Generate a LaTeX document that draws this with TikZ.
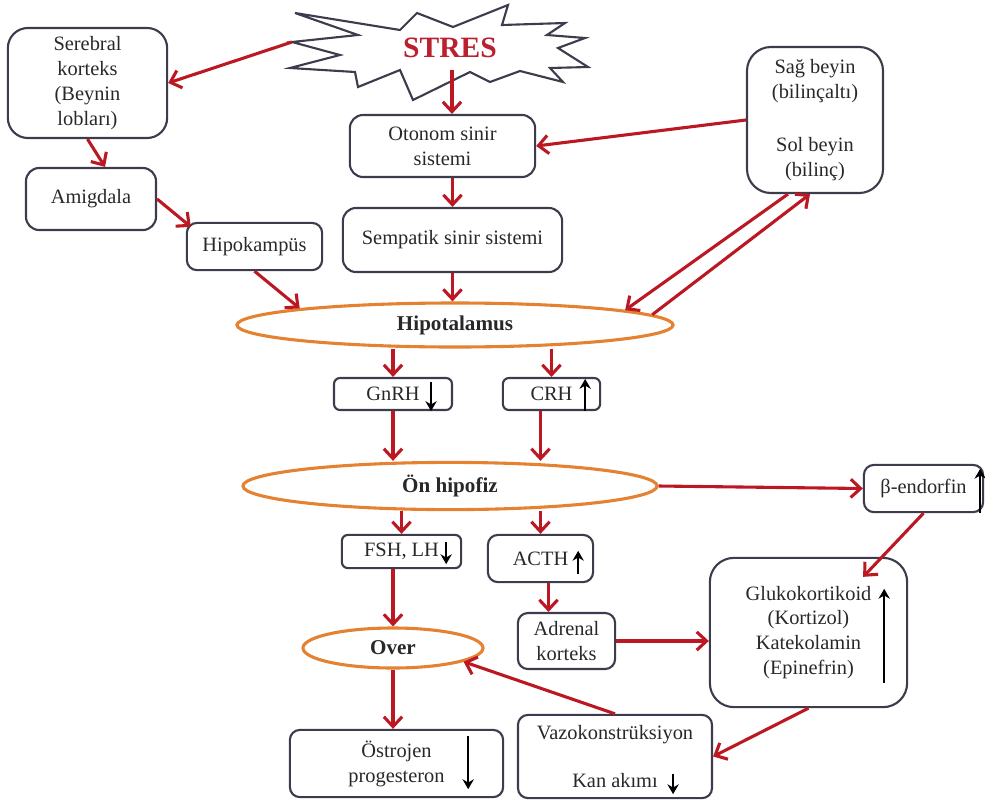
\documentclass[tikz,border=0pt]{standalone}
\usepackage{fontspec}
\setmainfont{Liberation Serif}
\usepackage{tikz}
\usetikzlibrary{arrows.meta,calc,shapes.geometric}

\definecolor{arrowred}{RGB}{188,24,36}
\definecolor{stresred}{RGB}{186,32,46}
\definecolor{boxgray}{RGB}{60,60,76}
\definecolor{ovalorange}{RGB}{228,130,50}
\definecolor{txtgray}{RGB}{40,40,40}

\begin{document}
\begin{tikzpicture}[x=0.025cm,y=-0.025cm,
    every node/.style={font=\fontsize{14.5}{17.7}\selectfont, text=txtgray, align=center, inner sep=0pt},
    box/.style={draw=boxgray, line width=1.5pt, rounded corners=0.25cm},
    bigbox/.style={box, rounded corners=0.6cm},
    organ/.style={ellipse, draw=ovalorange, line width=2.2pt, font=\fontsize{15}{17}\selectfont\bfseries},
    arr/.style={draw=arrowred, line width=2.2pt, -{Straight Barb[length=7pt,width=13pt]}},
    updown/.style={draw=black, line width=1.8pt, -{Stealth[length=7pt,width=8pt]}}]
    \useasboundingbox (0,0) rectangle (985,803);

    % Stres
    \draw[boxgray, line width=1.5pt, fill=white] (295,13) -- (400,30) -- (417,13) -- (453,27)
        -- (508,5) -- (502,25) -- (565,23) -- (547,35) -- (585,38) -- (558,48)
        -- (588,67) -- (550,68) -- (563,82) -- (520,71) -- (490,82) -- (470,72)
        -- (413,100) -- (400,70) -- (358,87) -- (355,72) -- (290,68) -- (340,55)
        -- (292,42) -- (358,35) -- cycle;
    \node[font=\fontsize{21}{21}\selectfont\bfseries, text=stresred] (stres) at (450,48) {STRES};
    \coordinate (stres-tip) at (292,42);
    \coordinate (stres-bot) at (452,70);

    % Left column
    \node[box, rounded corners=0.5cm, minimum width=3.98cm, minimum height=2.75cm]
        (serebral) at (87.5,83) {Serebral\\korteks\\(Beynin\\lobları)};
    \node[box, rounded corners=0.33cm, minimum width=3.25cm, minimum height=1.55cm]
        (amigdala) at (91,199) {Amigdala};
    \node[box, minimum width=3.38cm, minimum height=1.18cm]
        (hipokampus) at (254.5,246.5) {Hipokampüs};

    % Middle column
    \node[box, rounded corners=0.33cm, minimum width=4.63cm, minimum height=1.55cm]
        (otonom) at (442.5,146) {Otonom sinir\\sistemi};
    \node[box, rounded corners=0.33cm, minimum width=5.48cm, minimum height=1.6cm]
        (sempatik) at (452.5,240) {Sempatik sinir sistemi};
    \node[bigbox, minimum width=3.4cm, minimum height=3.65cm]
        (sagbeyin) at (815,120) {Sağ beyin\\(bilinçaltı)\\[20pt]Sol beyin\\(bilinç)};

    \node[organ, minimum width=10.9cm, minimum height=1.1cm] (hipo) at (455,325) {Hipotalamus};
    \node[box, rounded corners=0.15cm, minimum width=2.95cm, minimum height=0.8cm]
        (gnrh) at (393,394) {GnRH};
    \node[box, rounded corners=0.15cm, minimum width=2.43cm, minimum height=0.8cm]
        (crh) at (551.5,394) {CRH};
    \node[organ, minimum width=10.35cm, minimum height=1.18cm] (onhip) at (450,486) {Ön hipofiz};
    \node[box, minimum width=2.98cm, minimum height=1.18cm]
        (bendorfin) at (923.5,488.5) {β-endorfin};

    \node[box, rounded corners=0.15cm, minimum width=2.98cm, minimum height=0.83cm]
        (fshlh) at (401.5,551.5) {FSH, LH};
    \node[box, minimum width=2.63cm, minimum height=1.18cm]
        (acth) at (540.5,558.5) {ACTH};
    \node[box, minimum width=2.43cm, minimum height=1.4cm]
        (adrenal) at (566.5,641) {Adrenal\\korteks};
    \node[bigbox, minimum width=4.93cm, minimum height=3.73cm]
        (gluko) at (808.5,632.5) {Glukokortikoid\\(Kortizol)\\Katekolamin\\(Epinefrin)};
    \node[organ, minimum width=4.5cm, minimum height=1cm] (over) at (393,648) {Over};
    \node[box, minimum width=5.33cm, minimum height=1.68cm]
        (ostrojen) at (396.5,763.5) {Östrojen\\progesteron};
    \node[box, minimum width=4.85cm, minimum height=2.08cm]
        (vazo) at (615,756.5) {Vazokonstrüksiyon\\[17pt]Kan akımı};

    % Arrows
    \draw[arr] (stres-tip) -- (serebral.east);
    \draw[arr] (stres-bot) -- (stres-bot |- otonom.north);
    \draw[arr] (sempatik.north |- otonom.south) -- (sempatik.north);
    \draw[arr] (sagbeyin.west) -- (otonom.east);
    \draw[arr] (serebral.south) -- ($(amigdala.north)+(14,0)$);
    \draw[arr] (amigdala.east) -- ($(hipokampus.north west)+(5,5)$);
    \draw[arr] (hipokampus.south) -- (hipo.north west);
    \draw[arr] (sempatik.south) -- (sempatik.south |- hipo.north);
    \draw[arr] ($(sagbeyin.south)+(-27,0)$) -- (hipo.5);
    \draw[arr] (hipo.3) -- ($(sagbeyin.south)+(-5,0)$);
    \draw[arr] (gnrh.north |- hipo.south) -- (gnrh.north);
    \draw[arr] (crh.north |- hipo.south) -- (crh.north);
    \draw[arr] (gnrh.south) -- (gnrh.south |- onhip.north);
    \draw[arr] ($(crh.south)+(-11,0)$) -- ($(crh.south |- onhip.north)+(-11,0)$);
    \draw[arr] (onhip.east) -- (bendorfin.west);
    \draw[arr] (fshlh.north |- onhip.south) -- (fshlh.north);
    \draw[arr] (acth.north |- onhip.south) -- (acth.north);
    \draw[arr] (fshlh.south -| over) -- (over.north);
    \draw[arr] ($(acth.south)+(8,0)$) -- ($(acth.south |- adrenal.north)+(8,0)$);
    \draw[arr] (adrenal.east) -- (adrenal.east -| gluko.west);
    \draw[arr] (bendorfin.south) -- ($(gluko.north east)+(-45,20)$);
    \draw[arr] (gluko.south) -- (vazo.east);
    \draw[arr] (vazo.north) -- (over.-11);
    \draw[arr] (over.south) -- (over.south |- ostrojen.north);

    % Up / down marks
    \draw[updown] ($(gnrh.north east)+(-22,5)$) -- ($(gnrh.south east)+(-22,0)$);
    \draw[updown] ($(crh.south east)+(-16,0)$) -- ($(crh.north east)+(-16,2)$);
    \draw[updown] ($(fshlh.north east)+(-16,8)$) -- ($(fshlh.south east)+(-16,-5)$);
    \draw[updown] ($(acth.south east)+(-16,-9)$) -- ($(acth.north east)+(-16,17)$);
    \draw[updown] ($(bendorfin.south east)+(-4,0)$) -- ($(bendorfin.north east)+(-4,5)$);
    \draw[updown] ($(gluko.south east)+(-24,-25)$) -- ($(gluko.north east)+(-24,32)$);
    \draw[updown] ($(ostrojen.north east)+(-36,7)$) -- ($(ostrojen.south east)+(-36,-9)$);
    \draw[updown] ($(vazo.south east)+(-40,-25)$) -- ($(vazo.south east)+(-40,-5)$);
\end{tikzpicture}
\end{document}
